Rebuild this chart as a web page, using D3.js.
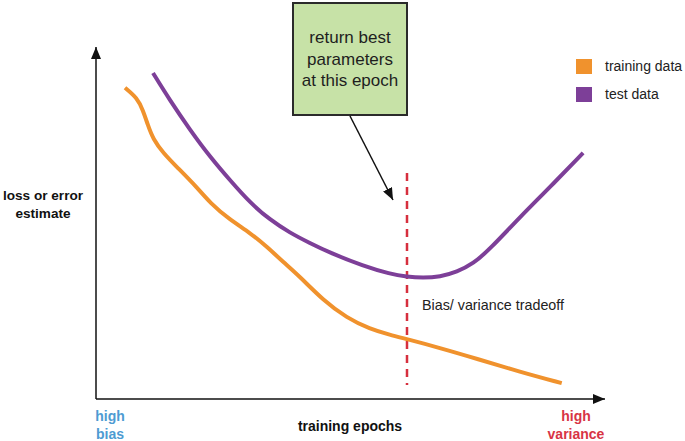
<!DOCTYPE html>
<html>
<head>
<meta charset="utf-8">
<script src="https://cdn.jsdelivr.net/npm/d3@7/dist/d3.min.js"></script>
<style>
  html, body { margin: 0; padding: 0; background: #fff; }
  svg { display: block; font-family: "Liberation Sans", Arial, sans-serif; }
</style>
</head>
<body>
<svg id="chart" width="685" height="441"></svg>
<script>
// ---- data (x: training epochs 0..100, y: loss 0..100) ----
const trainingEpochs = [5.7, 8.1, 9.2, 10.2, 11.2, 13.2, 15.9, 19.8, 22.4, 26.3, 30.3, 33.6, 36.8, 40.1, 44.6, 49.3, 53.8, 57.8, 61.1, 67.6, 74.9, 83.3, 91.5];
const trainingLoss   = [88.4, 85.5, 82.1, 77.8, 73.9, 69.9, 65.9, 60.2, 55.7, 50.9, 47.2, 43.2, 38.9, 34.7, 28.1, 23.0, 19.9, 18.2, 17.0, 14.5, 11.4, 7.7, 4.5];
const testEpochs = [11.2, 14.5, 18.5, 22.4, 26.3, 30.3, 34.2, 38.1, 42.0, 46.0, 52.5, 57.8, 61.1, 64.2, 67.6, 70.9, 74.1, 77.4, 83.3, 89.2, 95.7];
const testLoss   = [92.6, 84.9, 76.4, 68.8, 62.2, 55.7, 50.9, 47.2, 44.3, 41.5, 37.8, 35.5, 34.7, 34.4, 34.7, 36.1, 38.4, 42.6, 51.7, 60.2, 69.9];
const tradeoffEpoch = 61.1;
const tradeoffRange = [4.0, 64.2];
const seriesNames = ["training data", "test data"];
const seriesColors = ["#f0922d", "#7d3f98"];
const boxLines = ["return best", "parameters", "at this epoch"];
const yLabelLines = ["loss or error", "estimate"];
const xLabel = "training epochs";
const leftLabel = ["high", "bias"];
const rightLabel = ["high", "variance"];
const tradeoffLabel = "Bias/ variance tradeoff";

const svg = d3.select("#chart");
const x = d3.scaleLinear().domain([0, 100]).range([96, 605]);
const y = d3.scaleLinear().domain([0, 100]).range([399, 47]);

const defs = svg.append("defs");
defs.append("marker").attr("id", "arrow")
  .attr("markerUnits", "userSpaceOnUse")
  .attr("markerWidth", 13).attr("markerHeight", 10)
  .attr("refX", 12).attr("refY", 5).attr("orient", "auto")
  .append("path").attr("d", "M0,0 L12,5 L0,10 Z").attr("fill", "#111");

// axes
svg.append("line").attr("x1", x(0)).attr("y1", y(0)).attr("x2", x(0)).attr("y2", y(100))
  .attr("stroke", "#111").attr("stroke-width", 1.5).attr("marker-end", "url(#arrow)");
svg.append("line").attr("x1", x(0)).attr("y1", y(0)).attr("x2", x(100)).attr("y2", y(0))
  .attr("stroke", "#111").attr("stroke-width", 1.5).attr("marker-end", "url(#arrow)");

// tradeoff dashed line
svg.append("line")
  .attr("x1", x(tradeoffEpoch)).attr("x2", x(tradeoffEpoch))
  .attr("y1", y(tradeoffRange[1])).attr("y2", y(tradeoffRange[0]))
  .attr("stroke", "#d62f3e").attr("stroke-width", 2.5).attr("stroke-dasharray", "8,6");

// curves
const line = d3.line().x(d => x(d[0])).y(d => y(d[1])).curve(d3.curveBasis);
const series = [
  d3.zip(trainingEpochs, trainingLoss),
  d3.zip(testEpochs, testLoss)
];
svg.selectAll("path.series").data(series).join("path")
  .attr("class", "series")
  .attr("d", line)
  .attr("fill", "none")
  .attr("stroke", (d, i) => seriesColors[i])
  .attr("stroke-width", 4)
  .attr("stroke-linecap", "butt")
  .attr("stroke-linejoin", "round");

// box with callout
svg.append("rect").attr("x", 293).attr("y", 3).attr("width", 114).attr("height", 112)
  .attr("fill", "#c7e2a7").attr("stroke", "#2b2b2b").attr("stroke-width", 2);
svg.append("g").selectAll("text").data(boxLines).join("text")
  .attr("x", 350).attr("y", (d, i) => 43 + i * 21.5)
  .attr("text-anchor", "middle").attr("font-size", 17).attr("fill", "#1e1e1e")
  .text(d => d);
svg.append("line").attr("x1", 350).attr("y1", 116).attr("x2", 393).attr("y2", 200)
  .attr("stroke", "#111").attr("stroke-width", 1.5).attr("marker-end", "url(#arrow)");

// tradeoff label
svg.append("text").attr("x", 422).attr("y", 310).attr("font-size", 14.3).attr("fill", "#222")
  .text(tradeoffLabel);

// legend
const legend = svg.append("g");
seriesNames.forEach((name, i) => {
  legend.append("rect").attr("x", 576).attr("y", 59 + i * 28).attr("width", 16).attr("height", 15)
    .attr("fill", seriesColors[i]);
  legend.append("text").attr("x", 605).attr("y", 71 + i * 28).attr("font-size", 14).attr("fill", "#222")
    .text(name);
});

// axis labels
svg.append("g").selectAll("text").data(yLabelLines).join("text")
  .attr("x", 43).attr("y", (d, i) => 200 + i * 17.5)
  .attr("text-anchor", "middle").attr("font-size", 13.6).attr("font-weight", "bold").attr("fill", "#111")
  .text(d => d);
svg.append("text").attr("x", 350).attr("y", 431).attr("text-anchor", "middle")
  .attr("font-size", 14).attr("font-weight", "bold").attr("fill", "#111").text(xLabel);
svg.append("g").selectAll("text").data(leftLabel).join("text")
  .attr("x", 110).attr("y", (d, i) => 421 + i * 18)
  .attr("text-anchor", "middle").attr("font-size", 14).attr("font-weight", "bold").attr("fill", "#4d9bd2")
  .text(d => d);
svg.append("g").selectAll("text").data(rightLabel).join("text")
  .attr("x", 576).attr("y", (d, i) => 421 + i * 18)
  .attr("text-anchor", "middle").attr("font-size", 14).attr("font-weight", "bold").attr("fill", "#d83445")
  .text(d => d);
</script>
</body>
</html>
